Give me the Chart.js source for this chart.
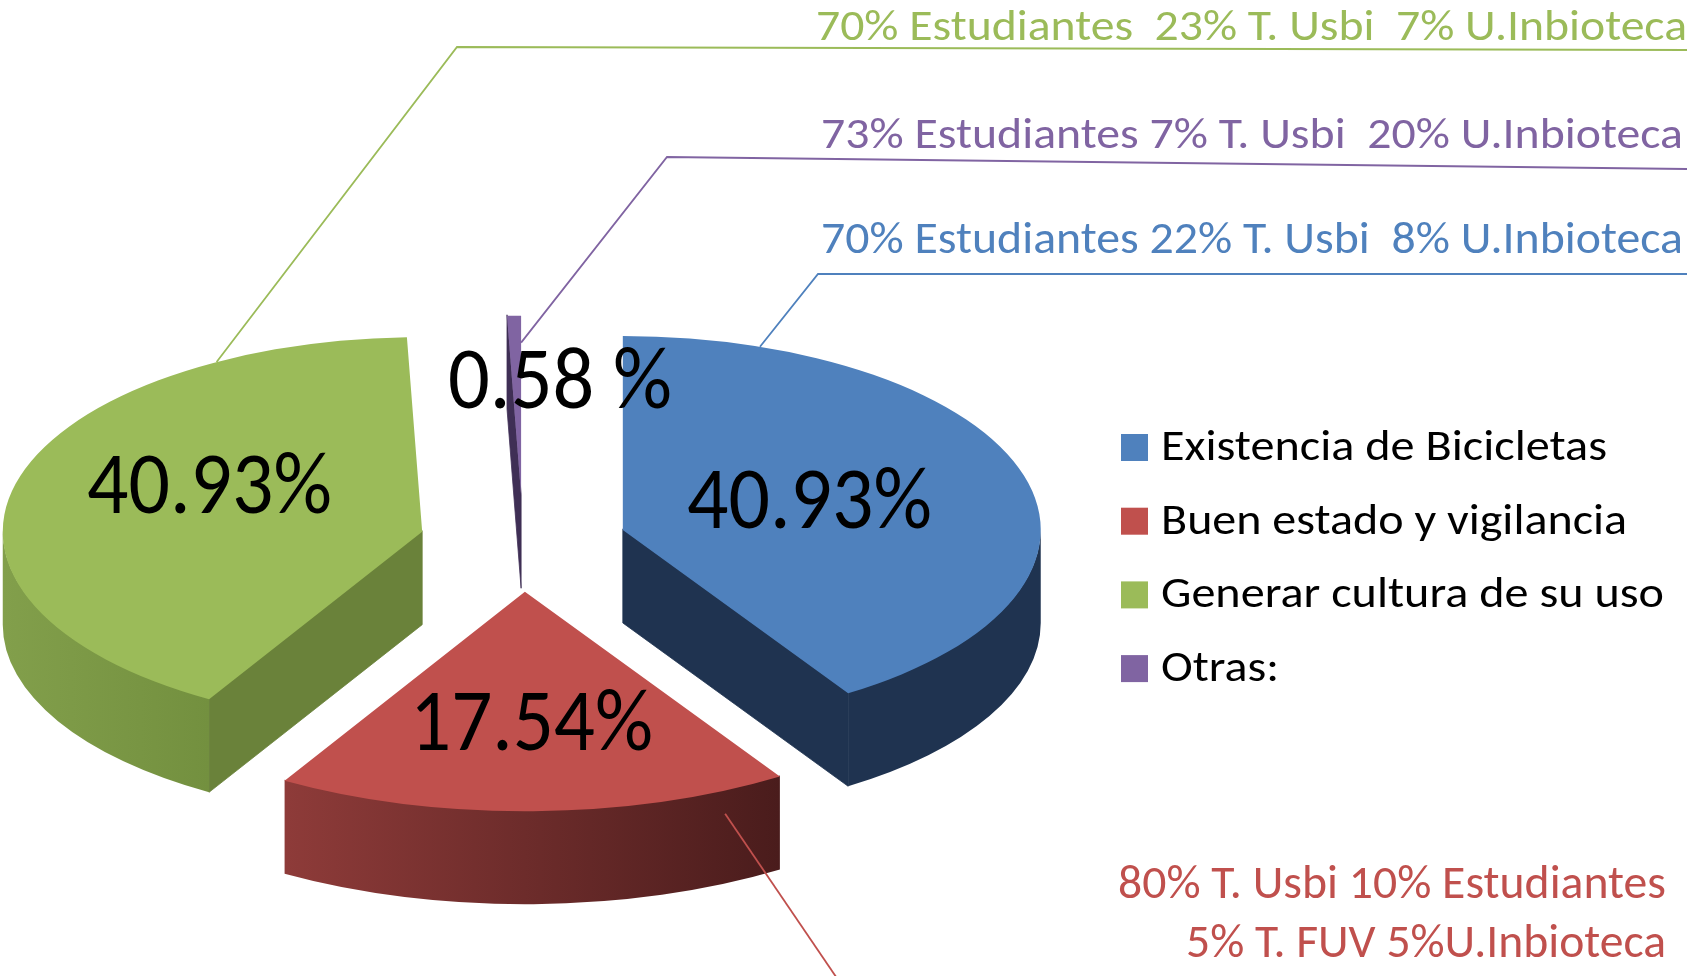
<!DOCTYPE html>
<html>
<head>
<meta charset="utf-8">
<title>Bicicletas - pastel 3D</title>
<script src="https://cdn.jsdelivr.net/npm/chart.js@4.4.1/dist/chart.umd.min.js"></script>
<style>
    html, body { margin: 0; padding: 0; background: #ffffff; overflow: hidden; }
    #wrap { width: 1706px; height: 976px; }
</style>
</head>
<body>
<div id="wrap"><canvas id="pie" width="1706" height="976"></canvas></div>
<script>
// ========================== Data ==========================
const categories = ["Existencia de Bicicletas", "Buen estado y vigilancia", "Generar cultura de su uso", "Otras:"];
const shares = [40.93, 17.54, 40.93, 0.58];
const shareLabels = ["40.93%", "17.54%", "40.93%", "0.58 %"];
const notes = [
    ["70% Estudiantes 22% T. Usbi  8% U.Inbioteca"],
    ["80% T. Usbi 10% Estudiantes", "5% T. FUV 5%U.Inbioteca"],
    ["70% Estudiantes  23% T. Usbi  7% U.Inbioteca"],
    ["73% Estudiantes 7% T. Usbi  20% U.Inbioteca"]
];

// ========================== Styles ==========================
const FONT = "Carlito, Lato, 'Open Sans', sans-serif";
const topColors = ["#4F81BD", "#C0504D", "#9BBB59", "#8064A2"];
const wallColors = [["#1F3350", "#1F3350"], ["#8E3B39", "#4A1C1C"], ["#829F4B", "#73903F"], ["#3F3152", "#3F3152"]];
const cutColors = ["#1F3350", "#4A1C1C", "#6A823A", "#3F2F55"];

const TILT = 0.464;     // vertical squash of the pie
const EXPLODE = 104;    // slice pull-out (pie units)
const DEPTH = 93;       // thickness in px
const PERSP = 0.10;     // front slices a bit bigger, back ones smaller

// label boxes: left x, baseline, cap height, width
const pctBoxes = [
    [687, 528, 58, 245],
    [410, 750, 57, 243],
    [87, 513, 58, 245],
    [448, 408, 58, 224]
];
// note text boxes per line: left x, baseline, cap height, width
const noteBoxes = [
    [[821, 253, 29, 862]],
    [[1118, 898, 30, 548], [1186, 957, 30, 480]],
    [[816, 40, 28, 871]],
    [[821, 148, 28, 862]]
];
// leader lines: where they leave the slice, then the elbow path
const leaders = [
    { t: 0.13, rho: 1, drop: 0, path: [[818, 274], [1687, 274]] },
    { t: 0.12, rho: 1, drop: 0.25, path: [[845, 990]] },
    { t: 0.815, rho: 1, drop: 0, path: [[457, 47], [1687, 50]] },
    { t: 1, rho: 0.85, drop: 0, path: [[667, 157], [1687, 169]] }
];

// ========================== Geometry helpers ==========================
function sliceGeo(arc) {
    const mid = (arc.startAngle + arc.endAngle) / 2;
    const s = 1 + PERSP * Math.sin(mid);
    return {
        a0: arc.startAngle, a1: arc.endAngle, s: s,
        r: arc.outerRadius * s,
        ax: arc.x + EXPLODE * Math.cos(mid),
        ay: arc.y + TILT * EXPLODE * Math.sin(mid)
    };
}

function rim(g, t, rho = 1) {
    return [g.ax + rho * g.r * Math.cos(t), g.ay + rho * TILT * g.r * Math.sin(t)];
}

function drawSides(ctx, g, i) {
    const ry = g.r * TILT;

    // cut faces that turn toward the viewer
    const faces = [];
    if (Math.cos(g.a0) < 0) faces.push(g.a0);
    if (Math.cos(g.a1) > 0) faces.push(g.a1);
    faces.forEach((t) => {
        const q = rim(g, t);
        ctx.beginPath();
        ctx.moveTo(g.ax, g.ay - 1);
        ctx.lineTo(q[0], q[1] - 1);
        ctx.lineTo(q[0], q[1] + DEPTH);
        ctx.lineTo(g.ax, g.ay + DEPTH);
        ctx.closePath();
        ctx.fillStyle = cutColors[i];
        ctx.strokeStyle = cutColors[i];
        ctx.lineWidth = 0.8;
        ctx.fill();
        ctx.stroke();
    });

    // outer wall, front half only
    const s = Math.max(g.a0, 0), e = Math.min(g.a1, Math.PI);
    if (e > s) {
        const p0 = rim(g, s), p1 = rim(g, e);
        const xl = Math.min(p0[0], p1[0], e >= Math.PI ? g.ax - g.r : Infinity);
        const xr = Math.max(p0[0], p1[0], s <= 0 ? g.ax + g.r : -Infinity);
        const grad = ctx.createLinearGradient(xl, 0, xr, 0);
        grad.addColorStop(0, wallColors[i][0]);
        grad.addColorStop(1, wallColors[i][1]);
        ctx.beginPath();
        ctx.ellipse(g.ax, g.ay - 1, g.r, ry, 0, s, e);
        ctx.lineTo(p1[0], p1[1] + DEPTH);
        ctx.ellipse(g.ax, g.ay + DEPTH, g.r, ry, 0, e, s, true);
        ctx.closePath();
        ctx.fillStyle = grad;
        ctx.fill();
    }
}

function fitText(ctx, str, x, base, capH, width, color) {
    ctx.save();
    ctx.font = "100px " + FONT;
    const asc = ctx.measureText("H").actualBoundingBoxAscent || 72;
    const size = 100 * capH / asc;
    ctx.font = size.toFixed(2) + "px " + FONT;
    const w = ctx.measureText(str).width;
    ctx.translate(x, base);
    ctx.scale(width / w, 1);
    ctx.textAlign = "left";
    ctx.textBaseline = "alphabetic";
    ctx.fillStyle = color;
    ctx.fillText(str, 0, 0);
    ctx.restore();
}

// ========================== Plugins ==========================
const pie3d = {
    id: "pie3d",
    beforeDatasetsDraw(chart) {
        const ctx = chart.ctx;
        const arcs = chart.getDatasetMeta(0).data;
        const geo = arcs.map(sliceGeo);

        geo.forEach((g, i) => drawSides(ctx, g, i));

        // top faces: the library's own arcs, squashed and pulled out
        arcs.forEach((arc, i) => {
            const g = geo[i];
            ctx.save();
            ctx.translate(g.ax, g.ay);
            ctx.scale(g.s, g.s * TILT);
            ctx.translate(-arc.x, -arc.y);
            arc.draw(ctx);
            ctx.restore();
        });
        chart.$geo = geo;
        return false;
    },
    afterDraw(chart) {
        const ctx = chart.ctx;
        const geo = chart.$geo;
        if (!geo) return;

        // leader lines + notes
        geo.forEach((g, i) => {
            const L = leaders[i];
            const start = rim(g, g.a0 + L.t * (g.a1 - g.a0), L.rho);
            ctx.save();
            ctx.strokeStyle = topColors[i];
            ctx.lineWidth = 1.8;
            ctx.beginPath();
            ctx.moveTo(start[0], start[1] + L.drop * DEPTH);
            L.path.forEach((p) => ctx.lineTo(p[0], p[1]));
            ctx.stroke();
            ctx.restore();

            notes[i].forEach((line, j) => {
                const b = noteBoxes[i][j];
                fitText(ctx, line, b[0], b[1], b[2], b[3], topColors[i]);
            });
        });

        // percentage labels
        shareLabels.forEach((txt, i) => {
            const b = pctBoxes[i];
            fitText(ctx, txt, b[0], b[1], b[2], b[3], "#000000");
        });

        // legend
        const legendX = 1121, legendTop = 447, legendStep = 73.7;
        const legendWidths = [446, 466, 503, 118];
        categories.forEach((name, i) => {
            const cy = legendTop + i * legendStep;
            ctx.fillStyle = topColors[i];
            ctx.fillRect(legendX, cy - 13, 27, 27);
            fitText(ctx, name, 1161, cy + 13, 28, legendWidths[i], "#000000");
        });
    }
};

// ========================== Chart ==========================
const ctx = document.getElementById("pie").getContext("2d");
new Chart(ctx, {
    type: "pie",
    data: {
        labels: categories,
        datasets: [{
            data: shares,
            backgroundColor: topColors,
            borderWidth: 0,
            radius: 430
        }]
    },
    options: {
        responsive: false,
        animation: false,
        devicePixelRatio: 1,
        layout: { padding: { left: 0, right: 660, top: 120, bottom: 9 } },
        plugins: {
            legend: { display: false },
            tooltip: { enabled: false }
        }
    },
    plugins: [pie3d]
});
</script>
</body>
</html>
